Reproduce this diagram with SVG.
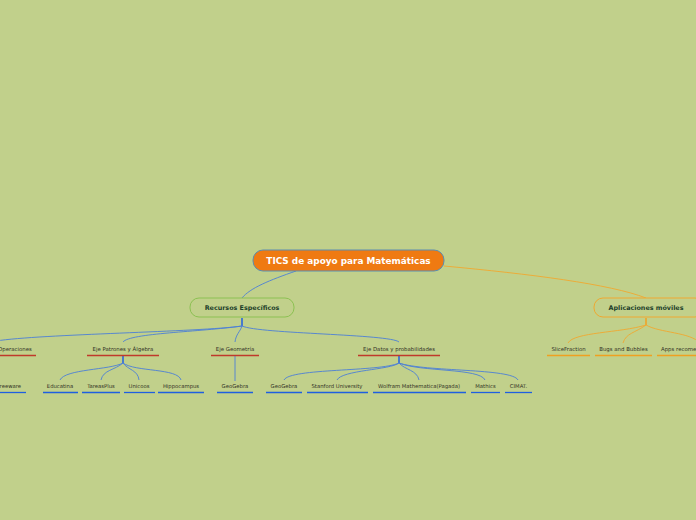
<svg xmlns="http://www.w3.org/2000/svg" width="696" height="520" viewBox="0 0 696 520">
<style>
.t{font-family:"DejaVu Sans",Verdana,sans-serif;text-anchor:middle}
.root{font-size:8.9px;font-weight:bold;fill:#ffffff}
.main{font-size:6.4px;font-weight:bold;fill:#1d3f2a}
.sub{font-size:5.4px;fill:#333326}
.leaf{font-size:5.3px;fill:#333326}
.ur{stroke:#c0392b;stroke-width:1.3}
.ub{stroke:#1f5fe0;stroke-width:1.3}
.uo{stroke:#f0a020;stroke-width:1.3}
.cb{fill:none;stroke:#4c7fd6;stroke-width:0.9}
.co{fill:none;stroke:#f0a830;stroke-width:0.9}
</style>
<rect width="696" height="520" fill="#c1d08b"/>
<g id="connectors">
<path class="cb" d="M296,271 C270,280 250,288 242,298" stroke-width="1.2"/>
<path class="co" d="M444,266 C530,274 610,284 646,298" stroke-width="1.2"/>
<line x1="242" y1="318" x2="242" y2="326" stroke="#1f5fe0" stroke-width="1.5"/>
<path class="cb" d="M242,326 C200,332 40,334 -4,341"/>
<path class="cb" d="M242,326 C200,332 130,333 123,342"/>
<path class="cb" d="M242,326 C240,332 236,334 235,342"/>
<path class="cb" d="M242,326 C260,334 390,334 399,342"/>
<line x1="123" y1="356" x2="123" y2="363" stroke="#1f5fe0" stroke-width="1.5"/>
<path class="cb" d="M123,363 C110,370 65,369 60,380"/>
<path class="cb" d="M123,363 C115,370 103,370 101,380"/>
<path class="cb" d="M123,363 C128,370 138,370 139,380"/>
<path class="cb" d="M123,363 C135,372 178,368 181,380"/>
<line class="cb" x1="235" y1="356" x2="235" y2="381" stroke="#6d8fb0"/>
<line x1="399" y1="356" x2="399" y2="363" stroke="#1f5fe0" stroke-width="1.5"/>
<path class="cb" d="M399,363 C380,372 290,368 284,380"/>
<path class="cb" d="M399,363 C390,370 342,370 337,380"/>
<path class="cb" d="M399,363 C405,370 417,370 419,380"/>
<path class="cb" d="M399,363 C420,372 480,368 485,380"/>
<path class="cb" d="M399,363 C425,372 512,368 518,380"/>
<line x1="646" y1="318" x2="646" y2="325" stroke="#f0a020" stroke-width="1.5"/>
<path class="co" d="M646,325 C620,333 574,332 568,343"/>
<path class="co" d="M646,325 C635,333 626,333 623,343"/>
<path class="co" d="M646,325 C660,333 690,332 700,343"/>
</g>
<g id="root">
<rect x="253" y="250" width="191" height="21" rx="10" fill="#ef7a12" stroke="#5b8db0" stroke-width="1"/>
<text class="t root" x="348.5" y="264">TICS de apoyo para Matemáticas</text>
</g>
<g id="recursos">
<rect x="190" y="298" width="104" height="19" rx="9" fill="#c1d08b" stroke="#8cc152" stroke-width="1"/>
<text class="t main" x="242" y="310">Recursos Específicos</text>
</g>
<g id="aplicaciones">
<rect x="594" y="298" width="110" height="19" rx="9" fill="#c1d08b" stroke="#f0a830" stroke-width="1"/>
<text class="t main" x="646" y="310">Aplicaciones móviles</text>
</g>
<g id="operaciones"><text class="t sub" x="15" y="351">Operaciones</text><line class="ur" x1="-2" y1="355.5" x2="36" y2="355.5"/></g>
<g id="patrones"><text class="t sub" x="123" y="351">Eje Patrones y Álgebra</text><line class="ur" x1="87" y1="355.5" x2="159" y2="355.5"/></g>
<g id="geometria"><text class="t sub" x="235" y="351">Eje Geometría</text><line class="ur" x1="211" y1="355.5" x2="259" y2="355.5"/></g>
<g id="datos"><text class="t sub" x="399" y="351">Eje Datos y probabilidades</text><line class="ur" x1="358" y1="355.5" x2="440" y2="355.5"/></g>
<g id="freeware"><text class="t leaf" x="9" y="388">Freeware</text><line class="ub" x1="-4" y1="392.5" x2="26" y2="392.5"/></g>
<g id="educatina"><text class="t leaf" x="60" y="388">Educatina</text><line class="ub" x1="43" y1="392.5" x2="78" y2="392.5"/></g>
<g id="tareasplus"><text class="t leaf" x="101" y="388">TareasPlus</text><line class="ub" x1="82" y1="392.5" x2="120" y2="392.5"/></g>
<g id="unicoos"><text class="t leaf" x="139" y="388">Unicoos</text><line class="ub" x1="124" y1="392.5" x2="155" y2="392.5"/></g>
<g id="hippocampus"><text class="t leaf" x="181" y="388">Hippocampus</text><line class="ub" x1="158" y1="392.5" x2="204" y2="392.5"/></g>
<g id="geogebra1"><text class="t leaf" x="235" y="388">GeoGebra</text><line class="ub" x1="217" y1="392.5" x2="253" y2="392.5"/></g>
<g id="geogebra2"><text class="t leaf" x="284" y="388">GeoGebra</text><line class="ub" x1="266" y1="392.5" x2="302" y2="392.5"/></g>
<g id="stanford"><text class="t leaf" x="337" y="388">Stanford University</text><line class="ub" x1="307" y1="392.5" x2="368" y2="392.5"/></g>
<g id="wolfram"><text class="t leaf" x="419" y="388">Wolfram Mathematica(Pagada)</text><line class="ub" x1="373" y1="392.5" x2="466" y2="392.5"/></g>
<g id="mathics"><text class="t leaf" x="485.5" y="388">Mathics</text><line class="ub" x1="471" y1="392.5" x2="500" y2="392.5"/></g>
<g id="cimat"><text class="t leaf" x="518.5" y="388">CIMAT.</text><line class="ub" x1="505" y1="392.5" x2="532" y2="392.5"/></g>
<g id="slicefraction"><text class="t sub" x="568.5" y="351">SliceFraction</text><line class="uo" x1="547" y1="355.5" x2="590" y2="355.5"/></g>
<g id="bugs"><text class="t sub" x="623.5" y="351">Bugs and Bubbles</text><line class="uo" x1="595" y1="355.5" x2="652" y2="355.5"/></g>
<g id="apps"><text class="sub" style="font-family:'DejaVu Sans',Verdana,sans-serif" x="661" y="351">Apps recomendadas</text><line class="uo" x1="657" y1="355.5" x2="710" y2="355.5"/></g>
</svg>
